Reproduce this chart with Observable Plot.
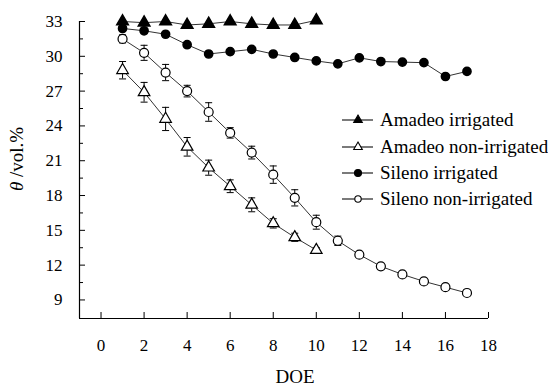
<!DOCTYPE html>
<html><head><meta charset="utf-8">
<script src="https://cdn.jsdelivr.net/npm/d3@7"></script>
<script src="https://cdn.jsdelivr.net/npm/@observablehq/plot@0.6"></script>
<style>
body{margin:0;background:#fff}
#wrap{position:relative;width:548px;height:387px;font-family:"Liberation Serif",Tinos,"DejaVu Serif",serif;color:#000}
.legend{position:absolute;left:342px;top:107px;font-size:19px}
.legend .row{height:26.4px;display:flex;align-items:center;white-space:nowrap}
.legend svg{margin-right:7px;overflow:visible}
</style></head>
<body><div id="wrap"></div>
<script>
// ---- data ----
const seriesNames = ["Amadeo irrigated", "Amadeo non-irrigated", "Sileno irrigated", "Sileno non-irrigated"];
const amadeoDays = [1,2,3,4,5,6,7,8,9,10];
const silenoDays = [1,2,3,4,5,6,7,8,9,10,11,12,13,14,15,16,17];
const amadeoIrr = [33.0, 32.9, 33.0, 32.7, 32.8, 33.0, 32.8, 32.7, 32.7, 33.1];
const amadeoNon = [28.8, 26.9, 24.6, 22.2, 20.4, 18.8, 17.2, 15.6, 14.4, 13.3];
const amadeoNonErr = [0.75, 0.85, 1.0, 0.8, 0.65, 0.55, 0.6, 0.4, 0.35, 0.2];
const silenoIrr = [32.4, 32.2, 31.9, 31.0, 30.2, 30.4, 30.6, 30.2, 29.9, 29.6, 29.35, 29.87, 29.55, 29.5, 29.45, 28.26, 28.7];
const silenoNon = [31.5, 30.3, 28.6, 27.0, 25.2, 23.4, 21.7, 19.8, 17.8, 15.7, 14.1, 12.9, 11.9, 11.2, 10.6, 10.1, 9.6];
const silenoNonErr = [0.35, 0.65, 0.7, 0.5, 0.8, 0.45, 0.55, 0.75, 0.7, 0.6, 0.4, 0.15, 0.15, 0.1, 0.15, 0.1, 0.1];
const xTicks = [0,2,4,6,8,10,12,14,16,18];
const yTicks = [9,12,15,18,21,24,27,30,33];
const yMinor = [10.5,13.5,16.5,19.5,22.5,25.5,28.5,31.5];
const xLabel = "DOE";
const yLabel = "θ /vol.%";

// ---- tables ----
const mk = (days, vals, name, errs) => days.map((d, i) => ({x: d, y: vals[i], e: errs ? errs[i] : 0, s: name}));
const ai = mk(amadeoDays, amadeoIrr, seriesNames[0]);
const an = mk(amadeoDays, amadeoNon, seriesNames[1], amadeoNonErr);
const si = mk(silenoDays, silenoIrr, seriesNames[2]);
const sn = mk(silenoDays, silenoNon, seriesNames[3], silenoNonErr);
const all = [...ai, ...an, ...si, ...sn];
const errs = [...an, ...sn];

const cap = {draw(ctx, size){ const r = Math.sqrt(size/Math.PI); ctx.moveTo(-r,0); ctx.lineTo(r,0); }};
const FONT = '"Liberation Serif",Tinos,"DejaVu Serif",serif';

const plot = Plot.plot({
  width: 548, height: 387,
  marginLeft: 79, marginRight: 60, marginTop: 21, marginBottom: 69,
  style: {fontFamily: FONT, fontSize: "17px", overflow: "visible", background: "white", color: "#000"},
  x: {domain: [-1, 18]},
  y: {domain: [7.4, 33]},
  marks: [
    Plot.ruleX([-1], {stroke: "#000", strokeWidth: 1.2}),
    Plot.ruleY([7.4], {stroke: "#000", strokeWidth: 1.2}),
    Plot.axisX(xTicks, {tickSize: -6, tickPadding: 26, label: null, fontSize: 17}),
    Plot.axisY(yTicks, {tickSize: -6, tickPadding: 23, label: null, fontSize: 17}),
    Plot.axisY(yMinor, {tickSize: -4, tickFormat: () => "", label: null}),
    Plot.text([yLabel], {frameAnchor: "left", textAnchor: "middle", dx: -63, dy: -11, rotate: -90, fontSize: 19}),
    Plot.text([xLabel], {frameAnchor: "bottom", textAnchor: "middle", dy: 64, dx: 11, fontSize: 19}),
    Plot.ruleX(errs, {x: "x", y1: d => d.y - d.e, y2: d => d.y + d.e, stroke: "#000", strokeWidth: 1}),
    Plot.dot(errs, {x: "x", y: d => d.y - d.e, symbol: cap, r: 3.5, stroke: "#000", fill: "none", strokeWidth: 1}),
    Plot.dot(errs, {x: "x", y: d => d.y + d.e, symbol: cap, r: 3.5, stroke: "#000", fill: "none", strokeWidth: 1}),
    Plot.line(all, {x: "x", y: "y", z: "s", stroke: "#333", strokeWidth: 1}),
    Plot.dot(ai, {x: "x", y: "y", symbol: "triangle", r: 4.3, fill: "#000", stroke: "#000"}),
    Plot.dot(an, {x: "x", y: "y", symbol: "triangle", r: 4.3, fill: "#fff", stroke: "#000", strokeWidth: 1.2}),
    Plot.dot(si, {x: "x", y: "y", symbol: "circle", r: 4.1, fill: "#000", stroke: "#000"}),
    Plot.dot(sn, {x: "x", y: "y", symbol: "circle", r: 4.5, fill: "#fff", stroke: "#000", strokeWidth: 1.2})
  ]
});

d3.select(plot).selectAll("text").filter(function(){ return this.textContent === yLabel; }).each(function(){
  const t = d3.select(this); t.text(null);
  t.append("tspan").attr("font-style", "italic").text("θ");
  t.append("tspan").text(" /vol.%");
});

const wrap = document.getElementById("wrap");
wrap.appendChild(plot);

// legend
const legendStyles = [
  {sym: d3.symbolTriangle, fill: "#000", r: 3.2},
  {sym: d3.symbolTriangle, fill: "#fff", r: 3.2},
  {sym: d3.symbolCircle, fill: "#000", r: 3.5},
  {sym: d3.symbolCircle, fill: "#fff", r: 3.2}
];
const leg = document.createElement("div");
leg.className = "legend";
seriesNames.forEach((name, i) => {
  const row = document.createElement("div"); row.className = "row";
  const st = legendStyles[i];
  const path = d3.symbol(st.sym, Math.PI * st.r * st.r)();
  row.innerHTML = `<svg width="31" height="14"><line x1="0" x2="31" y1="7" y2="7" stroke="#222" stroke-width="1.2"/><path d="${path}" transform="translate(16,7)" fill="${st.fill}" stroke="#000" stroke-width="1.1"/></svg><span>${name}</span>`;
  leg.appendChild(row);
});
wrap.appendChild(leg);
</script>
</body></html>
